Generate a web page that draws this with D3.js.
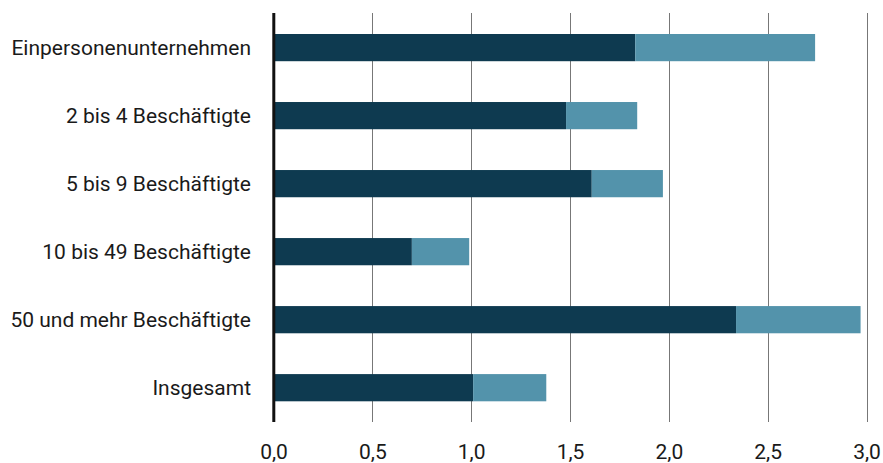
<!DOCTYPE html>
<html>
<head>
<meta charset="utf-8">
<script src="https://cdn.jsdelivr.net/npm/d3@7"></script>
<style>
  html, body { margin: 0; padding: 0; background: #fff; }
  svg { display: block; font-family: Roboto, "Noto Sans", sans-serif; }
</style>
</head>
<body>
<svg id="chart" width="883" height="463"></svg>
<script>
const categories = [
  "Einpersonenunternehmen",
  "2 bis 4 Beschäftigte",
  "5 bis 9 Beschäftigte",
  "10 bis 49 Beschäftigte",
  "50 und mehr Beschäftigte",
  "Insgesamt"
];
const seriesDark = [1.83, 1.48, 1.61, 0.70, 2.34, 1.01];
const seriesLight = [0.91, 0.36, 0.36, 0.29, 0.63, 0.37];
const tickValues = [0, 0.5, 1.0, 1.5, 2.0, 2.5, 3.0];

const colors = ["#0e3a50", "#5393ab"];

const svg = d3.select("#chart");

const x = d3.scaleLinear().domain([0, 3]).range([273.5, 866.5]);
const y = d3.scaleBand().domain(categories).range([34, 401.3]).paddingInner(0.6).paddingOuter(0);

const gridTop = 13, gridBottom = 422;

// gridlines
svg.append("g")
  .selectAll("line")
  .data(tickValues.slice(1))
  .join("line")
  .attr("x1", d => Math.round(x(d)) + 0.5)
  .attr("x2", d => Math.round(x(d)) + 0.5)
  .attr("y1", gridTop)
  .attr("y2", gridBottom)
  .attr("stroke", "#777")
  .attr("stroke-width", 1);

// stacked data
const rows = categories.map((c, i) => ({ cat: c, dark: seriesDark[i], light: seriesLight[i] }));
const stack = d3.stack().keys(["dark", "light"]);
const stacked = stack(rows);

svg.append("g")
  .selectAll("g")
  .data(stacked)
  .join("g")
  .attr("fill", (d, i) => colors[i])
  .selectAll("rect")
  .data(d => d)
  .join("rect")
  .attr("x", d => x(d[0]))
  .attr("width", d => x(d[1]) - x(d[0]))
  .attr("y", d => y(d.data.cat))
  .attr("height", y.bandwidth());

// axis line at zero
svg.append("line")
  .attr("x1", x(0) + 0.3)
  .attr("x2", x(0) + 0.3)
  .attr("y1", gridTop)
  .attr("y2", gridBottom)
  .attr("stroke", "#111")
  .attr("stroke-width", 3);

// category labels
svg.append("g")
  .selectAll("text")
  .data(categories)
  .join("text")
  .attr("x", 251)
  .attr("y", d => y(d) + y.bandwidth() / 2)
  .attr("dy", "0.36em")
  .attr("text-anchor", "end")
  .attr("font-size", 21)
  .attr("fill", "#1a1a1a")
  .text(d => d);

// x axis tick labels
const fmt = d => d3.format(".1f")(d).replace(".", ",");
const xAxis = d3.axisBottom(x).tickValues(tickValues).tickFormat(fmt).tickSize(0).tickPadding(0);
const gx = svg.append("g").attr("transform", "translate(0,444)").call(xAxis);
gx.select(".domain").remove();
gx.selectAll("text")
  .attr("font-size", 21)
  .attr("font-family", "Roboto, 'Noto Sans', sans-serif")
  .attr("fill", "#1a1a1a")
  .attr("y", 0)
  .attr("dy", "0.72em");
</script>
</body>
</html>
